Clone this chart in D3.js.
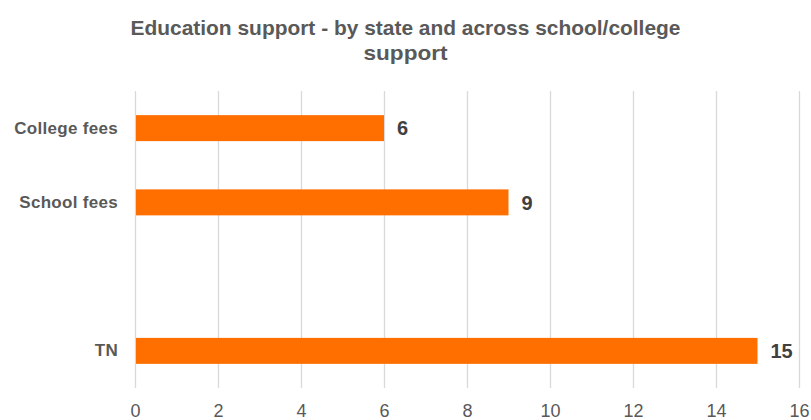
<!DOCTYPE html>
<html><head><meta charset="utf-8">
<script src="https://cdnjs.cloudflare.com/ajax/libs/d3/7.8.5/d3.min.js"></script>
<style>body{margin:0;background:#fff;} svg{display:block;}</style>
</head><body>
<svg id="c" width="811" height="420"></svg>
<script>
const categories = ["College fees", "School fees", "", "TN"];
const values = [6, 9, null, 15];
const ticks = [0, 2, 4, 6, 8, 10, 12, 14, 16];
const titleLines = ["Education support - by state and across school/college", "support"];

const svg = d3.select("#c");
const W = 811, H = 420;
const m = {left: 135, right: 12, top: 91, bottom: 32};
const x = d3.scaleLinear().domain([0, 16]).range([m.left, 799]);
const y = d3.scaleBand().domain(d3.range(categories.length)).range([m.top, H - m.bottom]).paddingInner(0.65).paddingOuter(0.325);

const font = "'Liberation Sans', Arial, sans-serif";

svg.append("g").selectAll("text").data(titleLines).join("text")
  .attr("x", W / 2).attr("y", (d, i) => 35 + i * 25)
  .attr("text-anchor", "middle").attr("font-family", font)
  .attr("font-weight", "bold").attr("font-size", 21).attr("fill", "#595959")
  .attr("textLength", (d, i) => i === 0 ? 550 : 84)
  .attr("lengthAdjust", "spacingAndGlyphs")
  .text(d => d);

// grid
const xAxis = d3.axisBottom(x).tickValues(ticks).tickSize(-(H - m.bottom - m.top)).tickPadding(16);
const gx = svg.append("g").attr("transform", `translate(0,${H - m.bottom})`).call(xAxis);
gx.select(".domain").remove();
gx.selectAll(".tick line").attr("stroke", "#d9d9d9").attr("stroke-width", 1.3);
gx.selectAll(".tick text").attr("font-family", font).attr("font-size", 18).attr("fill", "#595959");

// bars
const idx = d3.range(categories.length).filter(i => values[i] != null);
svg.append("g").selectAll("rect").data(idx).join("rect")
  .attr("x", x(0) + 1).attr("y", i => y(i))
  .attr("width", i => x(values[i]) - x(0) - 1).attr("height", y.bandwidth())
  .attr("fill", "#FF6F00");

svg.append("g").selectAll("text").data(idx).join("text")
  .attr("x", i => x(values[i]) + 13).attr("y", i => y(i) + y.bandwidth() / 2)
  .attr("dy", "0.36em").attr("font-family", font).attr("font-weight", "bold")
  .attr("font-size", 20).attr("fill", "#404040").text(i => values[i]);

// category labels
const yAxis = d3.axisLeft(y).tickSize(0).tickPadding(17).tickFormat(i => categories[i]);
const gy = svg.append("g").attr("transform", `translate(${m.left},0)`).call(yAxis);
gy.select(".domain").remove();
gy.selectAll(".tick text").attr("font-family", font).attr("font-weight", "bold")
  .attr("font-size", 17).attr("letter-spacing", "0.3px").attr("fill", "#595959");
</script>
</body></html>
